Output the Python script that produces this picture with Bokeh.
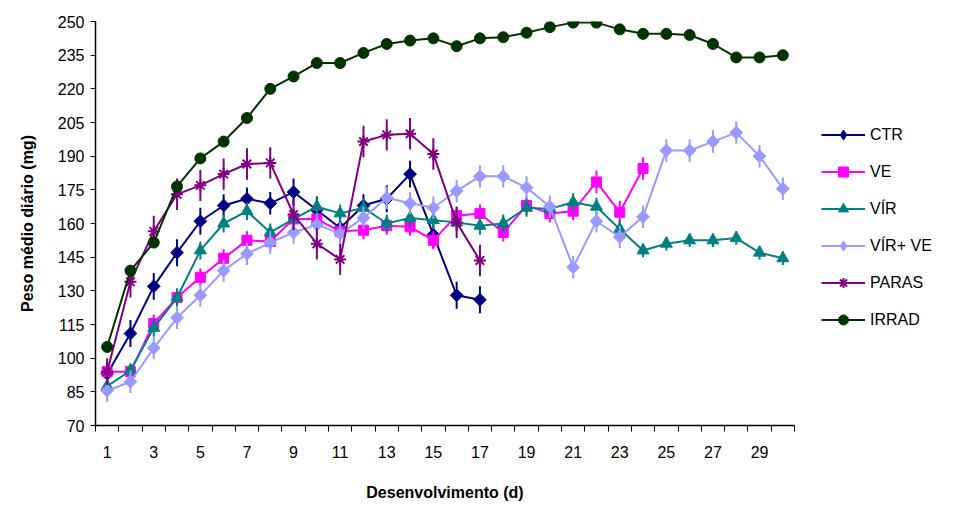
import numpy as np
from bokeh.plotting import figure
from bokeh.models import FixedTicker, Legend, LegendItem, ColumnDataSource, Range1d
from bokeh.embed import file_html
from bokeh.resources import INLINE

days = list(range(1, 31))
x_tick_days = list(range(1, 30, 2))
y_ticks = list(range(70, 251, 15))

ctr = [93, 111, 132, 147, 161, 168, 171, 169, 174, 166, 158, 168, 171, 182, 155, 128, 126]
ctr_err = [5, 6, 6, 6, 6, 5, 5, 5, 6, 6, 5, 5, 6, 6, 6, 6, 6]

ve = [94, 94, 115.5, 127, 136, 144.5, 152.5, 152, 162, 162, 156.5, 157, 159, 158.5, 152.5,
      163.5, 164.5, 156, 168, 164.5, 165.5, 178.5, 165, 184.5]
ve_err = [4, 3, 4, 4, 4, 4, 4, 4, 4, 4, 4, 4, 4, 4, 4, 4, 4, 4, 4, 4, 4, 5, 5, 5]

vir = [87.5, 94.5, 113.5, 127, 148, 160, 165.5, 156, 162, 167.5, 164.5, 167, 160, 162.5, 161.5,
       160.5, 159, 160, 167, 166.5, 169.5, 167.5, 157.5, 148, 151, 152.5, 152.5, 153.5, 147, 144.5]
vir_err = [3, 3, 4, 4, 4, 4, 4, 4, 4, 4, 4, 4, 4, 4, 4, 4, 4, 4, 4, 4, 4, 4, 4, 3, 3, 3, 3, 3, 3, 3]

virve = [85.5, 89.5, 104.5, 118, 128, 139, 146.5, 151.5, 156, 159.5, 155.5, 162.5, 171.5, 169, 167,
         174.5, 181, 181, 176, 167.5, 140.5, 161, 154, 163, 192.5, 192.5, 196.5, 200.5, 190, 175.5]
virve_err = [5, 5, 5, 5, 5, 5, 5, 5, 5, 5, 5, 5, 5, 5, 5, 5, 5, 5, 5, 5, 5, 5, 5, 5, 5, 5, 5, 5, 5, 5]

paras = [94, 134, 156.5, 173, 177, 182, 186.5, 187, 164, 151, 144, 196.5, 199.5, 200, 191, 160.5, 143.5]
paras_err = [6, 7, 7, 7, 7, 7, 7, 7, 7, 7, 7, 7, 7, 7, 7, 7, 7]

irrad = [105, 139, 151.5, 176.5, 189, 196.5, 207, 220, 225.5, 231.5, 231.5, 236, 240, 241.5, 242.5,
         239, 242.5, 243, 245, 247.5, 249.5, 249.5, 246.5, 244.5, 244.5, 244, 240, 234, 234, 235]

FONT = "Liberation Sans"

p = figure(frame_width=699, frame_height=404, output_backend="svg", toolbar_location=None,
           x_range=Range1d(0.5, 30.5), y_range=Range1d(70, 250),
           min_border_left=95, min_border_right=10, min_border_top=21, min_border_bottom=81)
p.outline_line_color = None
p.grid.grid_line_color = None
p.background_fill_color = "white"

p.xaxis.ticker = FixedTicker(ticks=x_tick_days, minor_ticks=[d - 0.5 for d in days] + [days[-1] + 0.5])
p.xaxis.major_tick_line_color = None
p.xaxis.major_tick_out = 6
p.xaxis.major_tick_in = 0
p.xaxis.minor_tick_line_color = "black"
p.xaxis.minor_tick_out = 6
p.xaxis.minor_tick_in = 0
p.xaxis.major_label_standoff = 14
p.xaxis.axis_label = "Desenvolvimento (d)"
p.xaxis.axis_label_standoff = 23

p.yaxis.ticker = FixedTicker(ticks=y_ticks, minor_ticks=[])
p.yaxis.major_tick_out = 5
p.yaxis.major_tick_in = 0
p.yaxis.major_tick_line_color = "black"
p.yaxis.minor_tick_line_color = None
p.yaxis.major_label_standoff = 6
p.yaxis.axis_label = "Peso médio diário (mg)"
p.yaxis.axis_label_standoff = 19

for ax in (p.xaxis, p.yaxis):
    ax.axis_line_color = "black"
    ax.axis_line_width = 1.5
    ax.major_label_text_font = FONT
    ax.major_label_text_font_size = "16px"
    ax.major_label_text_color = "black"
    ax.axis_label_text_font = FONT
    ax.axis_label_text_font_size = "16px"
    ax.axis_label_text_font_style = "bold"
    ax.axis_label_text_color = "black"

# name, values, errors, color, plot marker, size, angle, legend marker (hidden under the plot marker)
series = [
    ("CTR", ctr, ctr_err, "#000080", "square", 9, np.pi / 4, "diamond"),
    ("VE", ve, ve_err, "#FF00FF", "square", 10, 0, None),
    ("VÍR", vir, vir_err, "#008080", "triangle", 12, 0, None),
    ("VÍR+ VE", virve, virve_err, "#9999FF", "square", 9, np.pi / 4, "diamond"),
    ("PARAS", paras, paras_err, "#800080", "asterisk", 12, 0, None),
    ("IRRAD", irrad, None, "#003300", "circle", 11, 0, None),
]

items = []
for name, vals, errs, color, marker, size, angle, leg_marker in series:
    xs = days[:len(vals)]
    if errs is not None:
        src_e = ColumnDataSource(dict(x=xs, lo=[v - e for v, e in zip(vals, errs)],
                                      hi=[v + e for v, e in zip(vals, errs)]))
        p.segment(x0="x", y0="lo", x1="x", y1="hi", source=src_e, line_color=color, line_width=2)
    src = ColumnDataSource(dict(x=xs, y=vals))
    lr = p.line("x", "y", source=src, line_color=color, line_width=2)
    leg_r = None
    if leg_marker is not None:
        leg_r = p.scatter("x", "y", source=src, marker=leg_marker, size=9,
                          fill_color=color, line_color=color)
    sr = p.scatter("x", "y", source=src, marker=marker, size=size, angle=angle,
                   fill_color=color, line_color=color,
                   line_width=2 if marker == "asterisk" else 1)
    if leg_r is None:
        leg_r = sr
    items.append(LegendItem(label=name, renderers=[lr, leg_r]))

legend = Legend(items=items, location=(27, 93), orientation="vertical",
                glyph_width=44, glyph_height=25, label_height=25, spacing=12,
                label_standoff=5, padding=0, margin=0,
                label_text_font=FONT, label_text_font_size="16px", label_text_color="black",
                border_line_color=None, background_fill_alpha=0)
p.add_layout(legend, "right")

open("out.html", "w").write(file_html(p, INLINE))
